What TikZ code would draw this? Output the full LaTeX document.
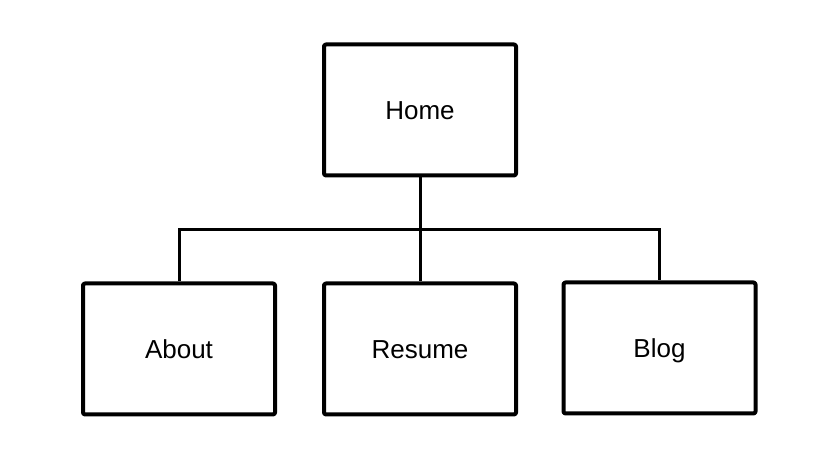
\documentclass[tikz,border=0pt]{standalone}
\usepackage{fontspec}
\setmainfont{Liberation Sans}
\usetikzlibrary{positioning}

\begin{document}
\begin{tikzpicture}[x=1pt, y=1pt]

\tikzset{
  page/.style={rectangle, draw, line width=4pt, rounded corners=2pt, line join=round,
    minimum width=192pt, minimum height=131pt, inner sep=0pt,
    text height=23pt, text depth=3pt,
    font=\fontsize{26}{30}\selectfont},
  link/.style={line width=3pt}
}

\useasboundingbox (0,0) rectangle (820,462);

% --- Seiten ---
\node[page] (home) at (420,352) {Home};
\node[page] (about) at (179,113) {About};
\node[page] (resume) at (420,113) {Resume};
\node[page] (blog) at (659.5,114) {Blog};

% --- Verteiler ---
\coordinate (bus) at (420,232);

% --- Kanten ---
\draw[link] (home) -- (resume);
\draw[link] (about.north) |- (bus) -| (blog.north);

\end{tikzpicture}
\end{document}
